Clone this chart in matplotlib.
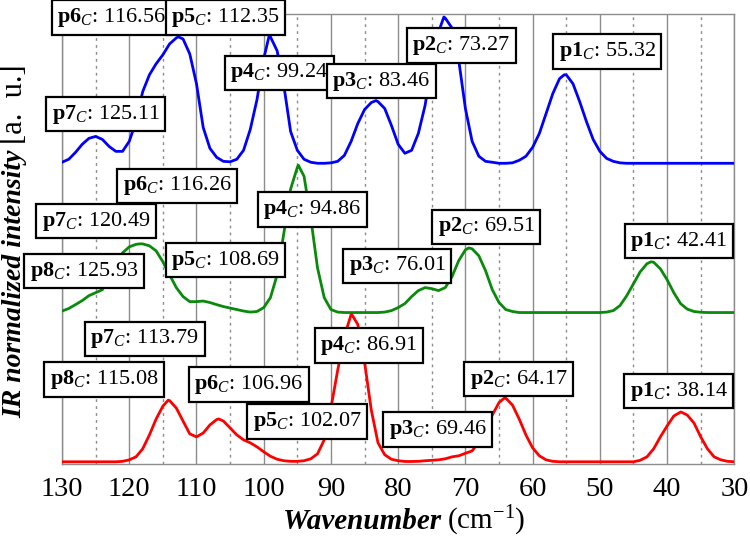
import matplotlib
matplotlib.use('Agg')
import matplotlib.pyplot as plt

plt.rcParams['font.family'] = ['Liberation Serif', 'DejaVu Serif']
plt.rcParams['mathtext.fontset'] = 'custom'
plt.rcParams['mathtext.rm'] = 'Liberation Serif'
plt.rcParams['mathtext.it'] = 'Liberation Serif:italic'
plt.rcParams['mathtext.bf'] = 'Liberation Serif:bold'

# IR spectra (normalized intensity, each trace on its own baseline)

# top trace (blue)
wn_blue = [130, 129, 128, 127, 126, 125, 124, 123, 122, 121, 120, 119, 118, 117, 116, 115, 114, 113,
           112.7, 112, 111, 110, 109, 108, 107, 106, 105, 104, 103, 102, 101, 100,
           99.2, 99, 98, 97, 96, 95, 94, 93, 92, 91, 90, 89, 88, 87, 86, 85, 84,
           83.3, 83, 82, 81, 80, 79, 78, 77, 76, 75, 74,
           73.2, 73, 72, 71, 70, 69, 68, 67, 66, 65, 64, 63, 62, 61, 60, 59, 58, 57, 56,
           55.3, 55, 54, 53, 52, 51, 50, 49, 48, 47, 46, 30]
ir_blue = [0.007, 0.027, 0.073, 0.127, 0.167, 0.180, 0.160, 0.113, 0.080, 0.080, 0.147, 0.280, 0.480, 0.593, 0.667, 0.727, 0.800, 0.840,
           0.847, 0.833, 0.733, 0.533, 0.240, 0.100, 0.040, 0.013, 0.010, 0.027, 0.087, 0.227, 0.427, 0.700,
           0.853, 0.847, 0.753, 0.520, 0.213, 0.087, 0.027, 0.007, 0.0, 0.0, 0.003, 0.013, 0.053, 0.147, 0.267, 0.360, 0.407,
           0.420, 0.413, 0.367, 0.253, 0.127, 0.067, 0.087, 0.200, 0.387, 0.667, 0.880,
           0.980, 0.973, 0.907, 0.693, 0.367, 0.147, 0.047, 0.013, 0.007, 0.0, 0.0, 0.003, 0.020, 0.047, 0.107, 0.200, 0.333, 0.467, 0.567,
           0.593, 0.593, 0.533, 0.413, 0.280, 0.160, 0.080, 0.033, 0.013, 0.003, 0.0, 0.0]

# middle trace (green)
wn_green = [130, 129, 128, 127, 126, 125, 124, 123, 122, 121, 120, 119,
            118.4, 118, 117, 116, 115, 114, 113, 112, 111, 110, 109, 108, 107, 106, 105, 104, 103, 102, 101, 100,
            99, 98, 97, 96, 95, 94.85, 94, 93, 92, 91, 90, 89, 88, 83, 82, 81, 80, 79, 78, 77, 76, 75, 74, 73, 72, 71, 70,
            69.5, 69, 68, 67, 66, 65, 64, 63, 62, 50, 49, 48, 47, 46, 45, 44, 43,
            42.4, 42, 41, 40, 39, 38, 37, 36, 35, 34, 30]
ir_green = [0.010, 0.027, 0.053, 0.080, 0.113, 0.133, 0.153, 0.230, 0.320, 0.400, 0.440, 0.457,
            0.460, 0.460, 0.447, 0.413, 0.340, 0.253, 0.167, 0.107, 0.073, 0.073, 0.077, 0.067, 0.053, 0.040, 0.030, 0.020, 0.010, 0.003, 0.007, 0.033,
            0.100, 0.253, 0.533, 0.827, 0.973, 0.987, 0.913, 0.633, 0.300, 0.100, 0.020, 0.003, 0.0, 0.0, 0.003, 0.013, 0.033, 0.060, 0.107, 0.147, 0.167, 0.160, 0.147, 0.167, 0.240, 0.347, 0.420,
            0.433, 0.427, 0.380, 0.280, 0.153, 0.067, 0.020, 0.007, 0.0, 0.0, 0.003, 0.013, 0.047, 0.113, 0.193, 0.273, 0.327,
            0.340, 0.337, 0.293, 0.220, 0.133, 0.060, 0.023, 0.007, 0.002, 0.0, 0.0]

# bottom trace (red)
wn_red = [130, 122, 121, 120, 119, 118, 117, 116, 115, 114.2, 114, 113, 112, 111, 110, 109, 108, 107,
          106.7, 106, 105, 104, 103, 102, 101, 100, 99, 98, 97, 96, 95, 94, 93, 92, 91, 90, 89, 88, 87,
          86.9, 86, 85, 84, 83, 82, 81, 80, 79, 78, 77, 76, 75, 74, 73, 72, 71, 70, 69, 68, 67, 66, 65,
          64.2, 64, 63, 62, 61, 60, 59, 58, 57, 56, 45, 44, 43, 42, 41, 40, 39, 38,
          37.9, 37, 36, 35, 34, 33, 32, 31, 30]
ir_red = [0.0, 0.0, 0.003, 0.013, 0.033, 0.087, 0.180, 0.287, 0.373, 0.413, 0.410, 0.360, 0.273, 0.187, 0.167, 0.193, 0.247, 0.283,
          0.287, 0.273, 0.227, 0.180, 0.147, 0.127, 0.100, 0.067, 0.037, 0.017, 0.007, 0.003, 0.003, 0.007, 0.020, 0.053, 0.147, 0.360, 0.613, 0.840, 0.987,
          0.987, 0.920, 0.667, 0.347, 0.127, 0.047, 0.017, 0.007, 0.002, 0.002, 0.003, 0.007, 0.010, 0.013, 0.020, 0.033, 0.040, 0.057, 0.073, 0.133, 0.213, 0.313, 0.397,
          0.427, 0.427, 0.380, 0.287, 0.180, 0.093, 0.040, 0.013, 0.003, 0.0, 0.0, 0.010, 0.033, 0.087, 0.167, 0.240, 0.307, 0.333,
          0.333, 0.313, 0.260, 0.167, 0.087, 0.033, 0.013, 0.003, 0.0]

# fitted peak centres shown in the boxes
names_blue = ['p7', 'p6', 'p5', 'p4', 'p3', 'p2', 'p1']
peaks_blue = [125.11, 116.56, 112.35, 99.24, 83.46, 73.27, 55.32]
names_green = ['p8', 'p7', 'p6', 'p5', 'p4', 'p3', 'p2', 'p1']
peaks_green = [125.93, 120.49, 116.26, 108.69, 94.86, 76.01, 69.51, 42.41]
names_red = ['p8', 'p7', 'p6', 'p5', 'p4', 'p3', 'p2', 'p1']
peaks_red = [115.08, 113.79, 106.96, 102.07, 86.91, 69.46, 64.17, 38.14]

xticks = [130, 120, 110, 100, 90, 80, 70, 60, 50, 40, 30]
xminor = [125, 115, 105, 95, 85, 75, 65, 55, 45, 35]

# layout: where each label box sits (wavenumber, stacked intensity)
box_blue = [(123.5, 2.33), (122.6, 2.977), (105.7, 2.977), (97.7, 2.605), (82.5, 2.551), (70.6, 2.789), (48.9, 2.749)]
box_green = [(126.7, 1.278), (124.9, 1.613), (112.9, 1.848), (105.7, 1.352), (92.8, 1.690), (80.15, 1.312), (66.9, 1.576), (38.26, 1.479)]
box_red = [(123.75, 0.551), (117.7, 0.823), (102.2, 0.518), (93.5, 0.270), (84.4, 0.779), (74.1, 0.216), (62.1, 0.554), (38.26, 0.474)]

fig = plt.figure(figsize=(7.5, 5.4), dpi=100)
ax = fig.add_axes([0.0827, 0.1407, 0.8964, 0.8333])

traces = [
    (wn_blue, ir_blue, 2.0, '#0000ff', names_blue, peaks_blue, box_blue),
    (wn_green, ir_green, 1.0, '#0a8a0a', names_green, peaks_green, box_green),
    (wn_red, ir_red, 0.0, '#ff0000', names_red, peaks_red, box_red),
]

for wn, ir, offset, col, names, peaks, boxes in traces:
    ax.plot(wn, [v + offset for v in ir], color=col, lw=2.0, zorder=3,
            solid_joinstyle='round', solid_capstyle='round')
    for name, pk, (bx, by) in zip(names, peaks, boxes):
        ax.text(bx, by, r'$\mathbf{%s}_{C}$: %.2f' % (name, pk),
                ha='center', va='center', fontsize=16, zorder=5, clip_on=False,
                bbox=dict(boxstyle='square,pad=0.25', fc='white', ec='black', lw=1.6))

ax.set_xlim(130, 30)
ax.set_ylim(-0.015, 3.0)
ax.set_xticks(xticks)
ax.set_xticks(xminor, minor=True)
ax.set_yticks([])
ax.tick_params(axis='x', which='both', length=0, pad=9, labelsize=20.5)
ax.set_axisbelow(True)
ax.grid(which='major', axis='x', color='#8c8c8c', lw=1.0, ls='-')
ax.grid(which='minor', axis='x', color='#8c8c8c', lw=1.0, ls=(0, (2, 3)))
for sp in ax.spines.values():
    sp.set_color('#8c8c8c')
    sp.set_linewidth(1.0)

# axis titles: bold italic part + regular unit part
fig.canvas.draw()
rend = fig.canvas.get_renderer()
W, H = fig.bbox.width, fig.bbox.height

t1 = fig.text(283 / W, 0.02, 'Wavenumber', fontsize=21, fontweight='bold', fontstyle='italic',
              ha='left', va='baseline')
bb = t1.get_window_extent(rend)
fig.text((bb.x1 + 6) / W, 0.02, r'(cm$^{\mathregular{-1}}$)', fontsize=21, ha='left', va='baseline')

t2 = fig.text(15 / W, 0.226, 'IR normalized intensity', fontsize=20, fontweight='bold', fontstyle='italic',
              rotation=90, ha='center', va='bottom')
bb = t2.get_window_extent(rend)
fig.text(15 / W, (bb.y1 + 5) / H, '[a.  u.]', fontsize=22, rotation=90, ha='center', va='bottom')

fig.savefig('out.png', dpi=100)
